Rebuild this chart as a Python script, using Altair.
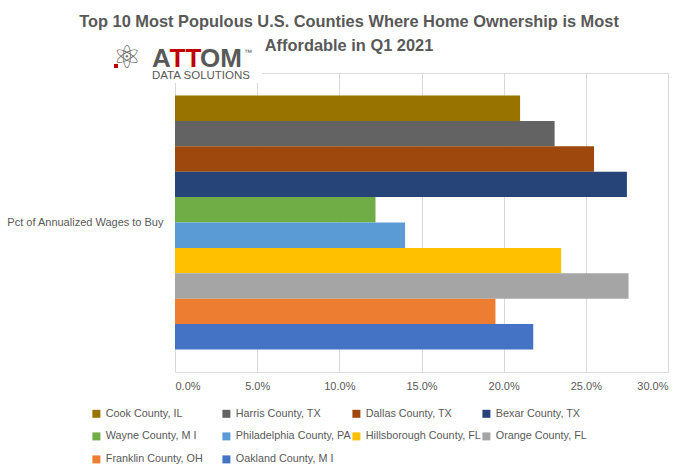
import altair as alt
import pandas as pd

legend_labels = [
    "Cook County, IL", "Harris County, TX", "Dallas County, TX", "Bexar County, TX",
    "Wayne County, M I", "Philadelphia County, PA", "Hillsborough County, FL",
    "Orange County, FL", "Franklin County, OH", "Oakland County, M I",
]
values = [0.210, 0.231, 0.255, 0.275, 0.122, 0.140, 0.235, 0.276, 0.195, 0.218]
colors = ["#997300", "#636363", "#9E480E", "#264478", "#70AD47",
          "#5B9BD5", "#FFC000", "#A5A5A5", "#ED7D31", "#4472C4"]
category = "Pct of Annualized Wages to Buy"
x_ticks = [0.0, 0.05, 0.10, 0.15, 0.20, 0.25, 0.30]

df = pd.DataFrame({"county": legend_labels, "value": values, "metric": category})

FONT = "Liberation Sans"
GRAY = "#595959"

bars = alt.Chart(df).mark_bar().encode(
    x=alt.X("value:Q",
            scale=alt.Scale(domain=[0, 0.30], nice=False),
            axis=alt.Axis(values=x_ticks, format=".1%", title=None, domain=False,
                          ticks=False, grid=True, gridColor="#D9D9D9",
                          labelColor=GRAY, labelFont=FONT, labelFontSize=11,
                          labelPadding=8)),
    y=alt.Y("metric:N",
            scale=alt.Scale(paddingInner=0, paddingOuter=0.0886),
            axis=alt.Axis(title=None, domain=False, ticks=False, labelColor=GRAY,
                          labelFont=FONT, labelFontSize=11, labelPadding=12,
                          labelLimit=300)),
    yOffset=alt.YOffset("county:N", sort=legend_labels,
                        scale=alt.Scale(paddingInner=0, paddingOuter=0)),
    color=alt.Color("county:N",
                    scale=alt.Scale(domain=legend_labels, range=colors),
                    legend=alt.Legend(title=None, orient="none", legendX=-84,
                                      legendY=335, columns=4, direction="horizontal",
                                      gridAlign="all",
                                      columnPadding=0, rowPadding=11,
                                      symbolType="square", symbolSize=64,
                                      symbolStrokeWidth=0, symbolOffset=0,
                                      labelOffset=4, labelColor=GRAY,
                                      labelFont=FONT, labelFontSize=10.8,
                                      labelLimit=200)),
)

one = pd.DataFrame({"k": [0]})

cover = alt.Chart(one).mark_rect(color="white").encode(
    x=alt.value(-90), x2=alt.value(87), y=alt.value(-33), y2=alt.value(10))

logo_a = alt.Chart(one).mark_text(text="A", font=FONT, fontWeight="bold", fontSize=26,
                                  color=GRAY, align="left", baseline="alphabetic").encode(
    x=alt.value(-23), y=alt.value(-6))
logo_tt = alt.Chart(one).mark_text(text="TT", font=FONT, fontWeight="bold", fontSize=26,
                                   color="#C00000", align="left", baseline="alphabetic").encode(
    x=alt.value(-5.5), y=alt.value(-6))
logo_om = alt.Chart(one).mark_text(text="OM", font=FONT, fontWeight="bold", fontSize=26,
                                   color=GRAY, align="left", baseline="alphabetic").encode(
    x=alt.value(25), y=alt.value(-6))
logo_tm = alt.Chart(one).mark_text(text="™", font=FONT, fontSize=8,
                                   color=GRAY, align="left", baseline="alphabetic").encode(
    x=alt.value(69), y=alt.value(-18))
logo_sub = alt.Chart(one).mark_text(text="DATA SOLUTIONS", font=FONT, fontSize=11.5,
                                    color=GRAY, align="left", baseline="alphabetic").encode(
    x=alt.value(-23), y=alt.value(5.5))
logo_icon = alt.Chart(one).mark_text(text="⚛", font="DejaVu Sans", fontSize=32,
                                     color="#6b6b6b", align="center", baseline="middle").encode(
    x=alt.value(-48), y=alt.value(-15))
logo_dot = alt.Chart(one).mark_square(color="#C00000", size=16, opacity=1).encode(
    x=alt.value(-59), y=alt.value(-7))

chart = alt.layer(bars, cover, logo_icon, logo_dot, logo_a, logo_tt, logo_om, logo_tm, logo_sub).properties(
    width=493, height=299,
    title=alt.Title(["Top 10 Most Populous U.S. Counties Where Home Ownership is Most",
                     "Affordable in Q1 2021"],
                    font=FONT, fontSize=16.4, fontWeight="bold", color=GRAY,
                    anchor="middle", frame="group", dx=-72.5, dy=34, offset=20,
                    lineHeight=24),
    autosize=alt.AutoSizeParams(type="none"),
    padding={"left": 175, "top": 73, "right": 30, "bottom": 104},
).configure_view(stroke=None).configure(background="white")

chart.save("out.html", embed_options={"renderer": "svg", "actions": False})
